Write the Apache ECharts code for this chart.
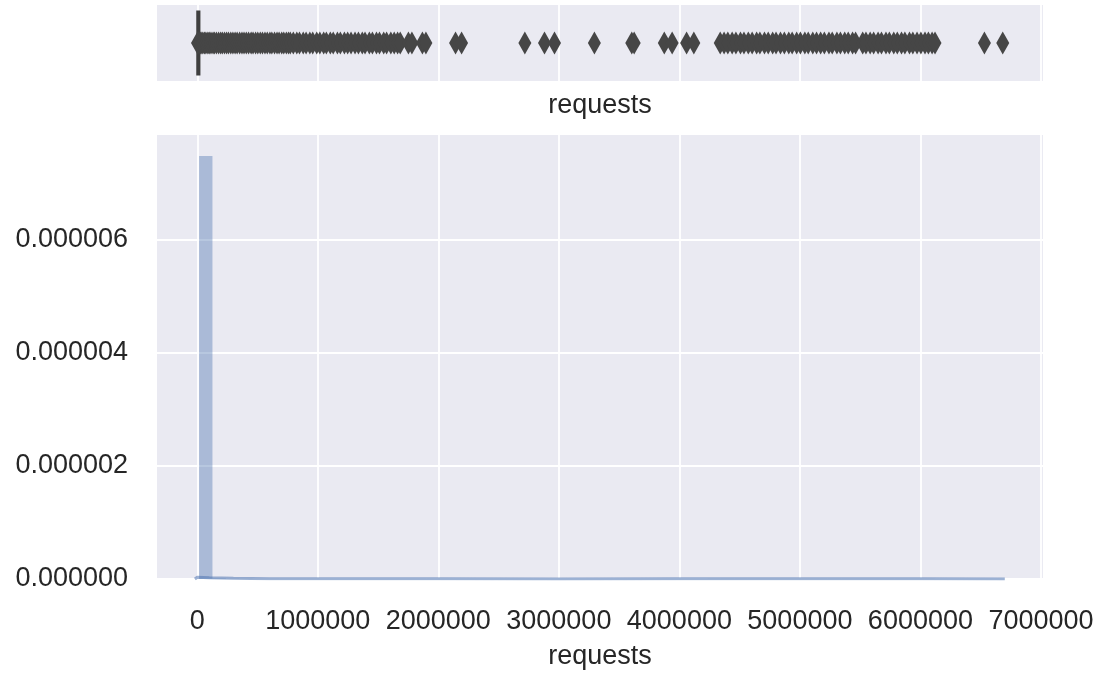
<!DOCTYPE html>
<html><head><meta charset="utf-8">
<script src="https://cdn.jsdelivr.net/npm/echarts@6/dist/echarts.min.js"></script>
<style>html,body{margin:0;padding:0;background:#fff}#c{width:1103px;height:675px}</style>
</head><body><div id="c"></div>
<script>
// ---- data ----
const axisName = 'requests';
const xTicks = [0, 1000000, 2000000, 3000000, 4000000, 5000000, 6000000, 7000000];
const yTicks = [0, 0.000002, 0.000004, 0.000006];
const xMin = -334000, xMax = 7017000;
const yMax = 0.00000785;
// box: [min, Q1, median, Q3, max]
const boxStats = [0, 0, 6000, 18000, 18000];
const outliers = [
  2000, 9000, 17000, 26000, 38000, 47000, 61000, 72000, 88000, 99000, 114000, 131000, 142000,
  159000, 177000, 194000, 208000, 226000, 243000, 259000, 278000, 296000, 314000, 331000,
  352000, 371000, 388000, 407000, 426000, 447000, 463000, 484000, 502000, 523000, 541000,
  562000, 581000, 603000, 619000, 641000, 662000, 679000, 701000, 718000, 739000, 757000, 772000,
  797000, 826000, 848000, 879000, 903000, 934000, 958000, 991000, 1017000, 1049000, 1071000,
  1104000, 1128000, 1163000, 1187000, 1221000, 1248000, 1276000, 1309000, 1337000, 1369000,
  1392000, 1428000, 1453000, 1487000, 1512000, 1547000, 1571000, 1606000, 1634000, 1662000, 1684000,
  1752000, 1781000, 1868000, 1897000,
  2143000, 2193000,
  2718000, 2881000, 2964000,
  3295000,
  3605000, 3625000,
  3875000, 3940000, 4060000, 4120000,
  4339000, 4371000, 4402000, 4438000, 4469000, 4507000, 4536000, 4572000, 4604000, 4641000,
  4668000, 4706000, 4737000, 4774000, 4802000, 4839000, 4871000, 4908000, 4936000, 4973000,
  5004000, 5041000, 5069000, 5107000, 5138000, 5172000, 5203000, 5241000, 5268000, 5307000,
  5336000, 5372000, 5401000, 5437000, 5462000, 5521000, 5548000, 5583000, 5612000, 5649000,
  5677000, 5714000, 5742000, 5779000, 5808000, 5843000, 5871000, 5909000, 5937000, 5972000,
  6004000, 6038000, 6066000, 6097000, 6121000,
  6531000, 6683000
];
const binStart = 15000;
const binWidth = 111000;
const densities = [
  0.00000748, 0.000000012, 0.000000006, 0.000000004, 0.000000003, 0.000000003, 0.000000002, 0.000000002,
  0.000000002, 0.000000001, 0.000000001, 0.000000001, 0.000000001, 0.000000001, 0.000000001, 0.000000001,
  0.000000001, 0.000000001, 0.000000001, 0.000000001, 0.000000001, 0.000000001, 0.000000001, 0.000000001,
  0.000000001, 0.000000001, 0.000000001, 0.000000001, 0.000000001, 0.000000001, 0.000000001, 0.000000001,
  0.000000001, 0.000000001, 0.000000001, 0.000000001, 0.000000001, 0.000000001, 0.000000002, 0.000000002,
  0.000000002, 0.000000002, 0.000000002, 0.000000002, 0.000000002, 0.000000002, 0.000000002, 0.000000002,
  0.000000002, 0.000000002, 0.000000002, 0.000000002, 0.000000002, 0.000000002, 0.000000002, 0.000000001,
  0.000000001, 0.000000001, 0.000000001, 0.000000001
];
const kdeX = [-20000, 0, 100000, 300000, 600000, 1000000, 2000000, 3000000, 4000000, 5000000, 6000000, 6700000];
const kdeY = [0, 0.00000003, 0.00000002, 0.000000012, 0.000000006, 0.000000004, 0.000000003, 0.000000002, 0.000000003, 0.000000003, 0.000000003, 0];

// ---- build ----
const TXT = '#262626';
const FONT = 'Liberation Sans, Arial, sans-serif';
const FS = 27;
const histData = densities.map((d, i) => [binStart + i * binWidth, binStart + (i + 1) * binWidth, d]);
const kdeData = kdeX.map((x, i) => [x, kdeY[i]]);
const flierData = outliers.map(v => [v, 0]);

const chart = echarts.init(document.getElementById('c'), null, {renderer: 'canvas'});
const splitLineStyle = {show: true, lineStyle: {color: '#ffffff', width: 1.8}};
chart.setOption({
  animation: false,
  backgroundColor: '#ffffff',
  grid: [
    {left: 157, top: 5, width: 886, height: 76, show: true, backgroundColor: '#EAEAF2', borderWidth: 0},
    {left: 157, top: 135, width: 886, height: 444, show: true, backgroundColor: '#EAEAF2', borderWidth: 0}
  ],
  xAxis: [
    {type: 'value', gridIndex: 0, min: xMin, max: xMax,
     axisLine: {show: false}, axisTick: {show: false, customValues: xTicks},
     axisLabel: {show: false, customValues: xTicks},
     splitLine: splitLineStyle,
     name: axisName, nameLocation: 'middle', nameGap: 11,
     nameTextStyle: {color: TXT, fontSize: FS, fontFamily: FONT, verticalAlign: 'top'}},
    {type: 'value', gridIndex: 1, min: xMin, max: xMax,
     axisLine: {show: false}, axisTick: {show: false, customValues: xTicks},
     axisLabel: {customValues: xTicks, color: TXT, fontSize: FS, fontFamily: FONT, margin: 29,
                 formatter: v => String(Math.round(v))},
     splitLine: splitLineStyle,
     name: axisName, nameLocation: 'middle', nameGap: 64,
     nameTextStyle: {color: TXT, fontSize: FS, fontFamily: FONT, verticalAlign: 'top'}}
  ],
  yAxis: [
    {type: 'category', gridIndex: 0, data: [axisName], boundaryGap: true,
     axisLine: {show: false}, axisTick: {show: false}, axisLabel: {show: false}, splitLine: {show: false}},
    {type: 'value', gridIndex: 1, min: 0, max: yMax,
     axisLine: {show: false}, axisTick: {show: false, customValues: yTicks},
     axisLabel: {customValues: yTicks, color: TXT, fontSize: FS, fontFamily: FONT, margin: 29,
                 formatter: v => v.toFixed(6)},
     splitLine: splitLineStyle}
  ],
  series: [
    {type: 'boxplot', xAxisIndex: 0, yAxisIndex: 0, data: [boxStats], boxWidth: [63, 63],
     itemStyle: {color: '#3F3F3F', borderColor: '#3F3F3F', borderWidth: 2}, z: 3},
    {type: 'scatter', xAxisIndex: 0, yAxisIndex: 0, data: flierData, symbol: 'diamond',
     symbolSize: [13, 23], itemStyle: {color: '#464646', opacity: 1}, z: 4},
    {type: 'custom', xAxisIndex: 1, yAxisIndex: 1, data: histData, encode: {x: [0, 1], y: 2},
     renderItem: function (params, api) {
       const p0 = api.coord([api.value(0), api.value(2)]);
       const p1 = api.coord([api.value(1), 0]);
       return {type: 'rect', shape: {x: p0[0], y: p0[1], width: p1[0] - p0[0], height: p1[1] - p0[1]},
               style: {fill: 'rgba(76,114,176,0.4)'}};
     }, z: 3},
    {type: 'line', xAxisIndex: 1, yAxisIndex: 1, data: kdeData, showSymbol: false, symbol: 'none',
     clip: true, lineStyle: {color: '#4C72B0', width: 3, opacity: 0.55}, z: 4}
  ]
});
</script></body></html>
